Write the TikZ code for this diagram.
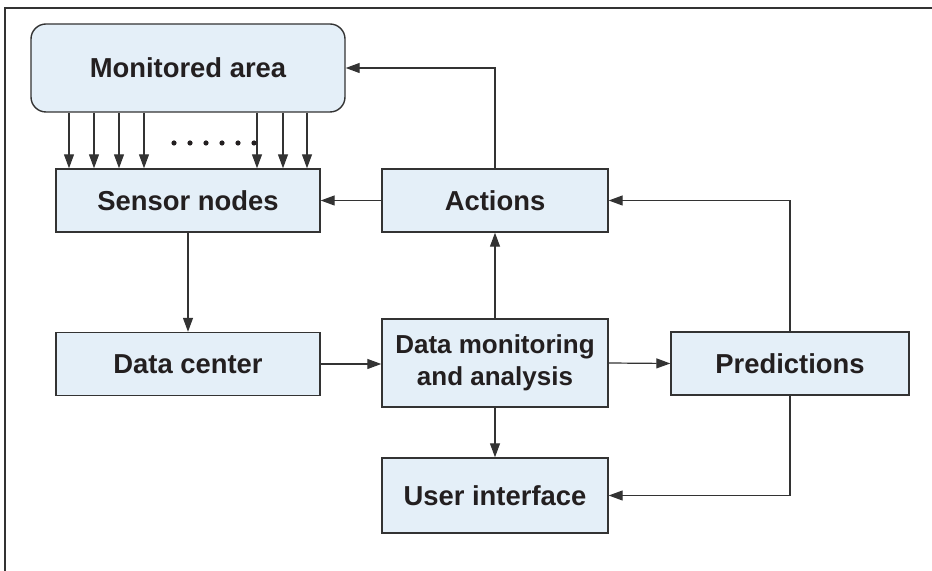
\documentclass[tikz,border=0pt]{standalone}
\usepackage{fontspec}
\setmainfont{Liberation Sans}
\usetikzlibrary{arrows.meta}
\definecolor{boxfill}{HTML}{E4EFF8}
\definecolor{boxline}{HTML}{333333}
\definecolor{lnc}{HTML}{333333}
\definecolor{txt}{HTML}{231F20}
\begin{document}
\begin{tikzpicture}[x=0.5pt,y=-0.5pt,
  box/.style={draw=boxline,fill=boxfill,line width=0.7pt,inner sep=0pt,align=center,
    text=txt,font=\fontsize{13.7}{16}\selectfont\bfseries},
  arr/.style={draw=lnc,line width=0.6pt,-{Triangle[length=7pt,width=5pt]}}]
\useasboundingbox (0,0) rectangle (932,571);
\draw[boxline,line width=0.8pt] (5,571) -- (5,8) -- (932,8);

\node[box,rounded corners=7.5pt,minimum width=157pt,minimum height=44pt] (ma) at (188,68) {Monitored area};
\node[box,minimum width=132pt,minimum height=31.5pt] (sn) at (188,200.5) {Sensor nodes};
\node[box,minimum width=113pt,minimum height=31.5pt] (ac) at (495,200.5) {Actions};
\node[box,minimum width=132pt,minimum height=31.5pt] (dc) at (188,364) {Data center};
\node[box,minimum width=113pt,minimum height=44pt,font=\fontsize{13}{16}\selectfont\bfseries] (dm) at (495,363) {Data monitoring\\and analysis};
\node[box,minimum width=119pt,minimum height=31.5pt] (pr) at (790,363.5) {Predictions};
\node[box,minimum width=113pt,minimum height=37.5pt] (ui) at (495,495.5) {User interface};

\foreach \x in {69,94,119,144,257,283,307}
  \draw[arr] (\x,0 |- ma.south) -- (\x,0 |- sn.north);
\foreach \x in {0,...,5}
  \fill[txt] (174+\x*16,143) circle (1.3pt);

\draw[arr] (ac.north) |- (ma.east);
\draw[arr] (ac.west) -- (sn.east);
\draw[arr] (dm.north) -- (ac.south);
\draw[arr] (dm.south) -- (ui.north);
\draw[arr] (dc.east) -- (dc.east -| dm.west);
\draw[arr] (dm.east) -- (pr.west);
\draw[arr] (pr.north) |- (ac.east);
\draw[arr] (pr.south) |- (ui.east);
\draw[arr] (sn.south) -- (dc.north);
\end{tikzpicture}
\end{document}
